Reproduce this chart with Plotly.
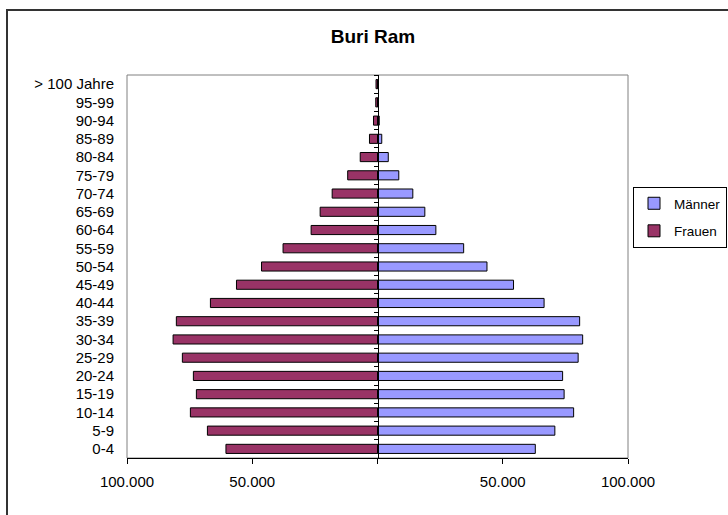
import plotly.graph_objects as go

# Age groups, bottom to top
age_groups = ["0-4", "5-9", "10-14", "15-19", "20-24", "25-29", "30-34", "35-39",
              "40-44", "45-49", "50-54", "55-59", "60-64", "65-69", "70-74", "75-79",
              "80-84", "85-89", "90-94", "95-99", "> 100 Jahre"]

maenner = [63000, 70800, 78300, 74500, 73900, 80100, 81900, 80700, 66500, 54300,
           43700, 34400, 23300, 18900, 14100, 8500, 4300, 1700, 700, 400, 300]
frauen = [60500, 67900, 74700, 72300, 73500, 77900, 81600, 80300, 66700, 56300,
          46300, 37700, 26500, 22900, 18100, 11900, 6900, 3200, 1600, 700, 600]

x_tickvals = [-100000, -50000, 0, 50000, 100000]
x_ticktext = ["100.000", "50.000", "", "50.000", "100.000"]

FONT = "Liberation Sans, Arial, sans-serif"
W, H = 728, 515
ML, MR, MT, MB = 127, 100, 75, 57
PW, PH = W - ML - MR, H - MT - MB


def px_x(p):
    return (p - ML) / PW


def px_y(p):
    return (H - MB - p) / PH


fig = go.Figure()
fig.add_trace(go.Bar(
    y=age_groups, x=maenner, orientation="h", name="Männer",
    marker=dict(color="#9999FF", line=dict(color="black", width=1)),
    legendgroup="m",
))
fig.add_trace(go.Bar(
    y=age_groups, x=[-v for v in frauen], orientation="h", name="Frauen",
    marker=dict(color="#993366", line=dict(color="black", width=1)),
    legendgroup="f",
))
# carrier trace for the central age axis with boundary ticks
fig.add_trace(go.Scatter(
    x=[0], y=[0], yaxis="y2", mode="markers", marker=dict(opacity=0),
    showlegend=False, hoverinfo="skip",
))

boundaries = [i - 0.5 for i in range(len(age_groups) + 1)]

fig.update_layout(
    width=W, height=H,
    margin=dict(l=ML, r=MR, t=MT, b=MB, autoexpand=False),
    paper_bgcolor="white", plot_bgcolor="white",
    barmode="relative", bargap=0.5,
    font=dict(family=FONT, size=15, color="black"),
    title=dict(text="<b>Buri Ram</b>", x=373 / W, xref="container", xanchor="center",
               y=1 - 36.5 / H, yref="container", yanchor="middle",
               font=dict(family=FONT, size=19, color="black")),
    xaxis=dict(range=[-100000, 100000], tickvals=x_tickvals, ticktext=x_ticktext,
               ticks="outside", ticklen=5, tickcolor="black", showline=True,
               linecolor="black", linewidth=1, showgrid=False, zeroline=False,
               tickfont=dict(size=15), ticklabelstandoff=5, fixedrange=True),
    yaxis=dict(type="category", categoryorder="array", categoryarray=age_groups,
               ticks="", showline=False, showgrid=False, zeroline=False,
               tickfont=dict(size=15), ticklabelstandoff=12),
    yaxis2=dict(overlaying="y", anchor="free", position=0.5, range=[-0.5, 20.5],
                tickvals=boundaries, ticks="outside", ticklen=4, tickcolor="black",
                showticklabels=False, showline=True, linecolor="black", linewidth=1,
                showgrid=False, zeroline=False),
    legend=dict(x=px_x(633), y=px_y(187), xanchor="left", yanchor="top",
                bordercolor="black", borderwidth=1, bgcolor="white",
                font=dict(size=13.5), tracegroupgap=7, traceorder="grouped"),
    showlegend=True,
    shapes=[
        # plot area frame
        dict(type="rect", xref="paper", yref="paper", x0=0, y0=0, x1=1, y1=1,
             line=dict(color="#808080", width=1), layer="below"),
        # chart frame
        dict(type="rect", xref="paper", yref="paper",
             x0=px_x(7), y0=px_y(530), x1=px_x(740), y1=px_y(10),
             line=dict(color="#333333", width=2), layer="below"),
    ],
)

fig.write_html("out.html")
